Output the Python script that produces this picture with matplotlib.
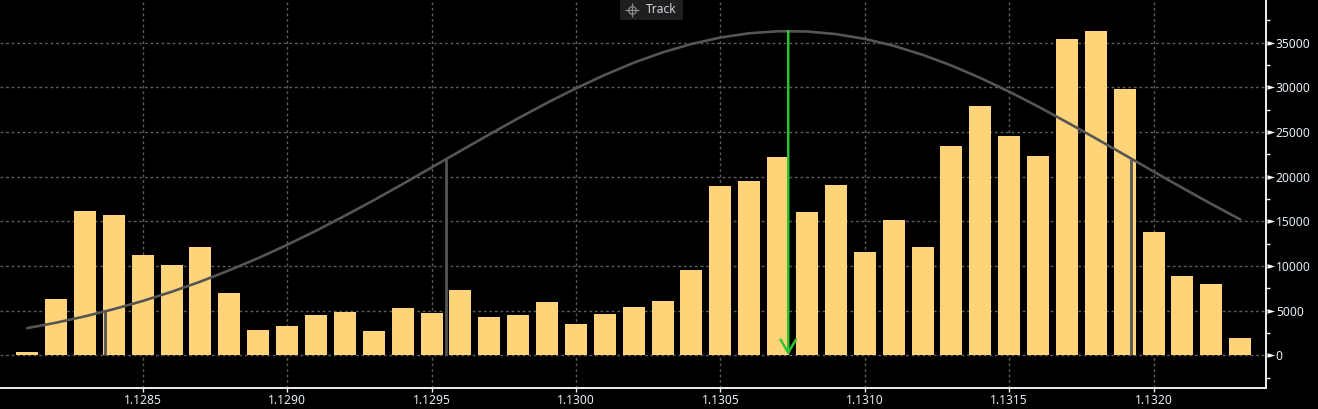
import matplotlib
matplotlib.use("Agg")
import matplotlib.pyplot as plt
import matplotlib.transforms as mtransforms
from matplotlib.patches import Rectangle
from matplotlib.lines import Line2D
import numpy as np

# ---- data ----
price_levels = [1.1281, 1.1282, 1.1283, 1.1284, 1.1285, 1.1286, 1.1287, 1.1288, 1.1289, 1.1290,
                1.1291, 1.1292, 1.1293, 1.1294, 1.1295, 1.1296, 1.1297, 1.1298, 1.1299, 1.1300,
                1.1301, 1.1302, 1.1303, 1.1304, 1.1305, 1.1306, 1.1307, 1.1308, 1.1309, 1.1310,
                1.1311, 1.1312, 1.1313, 1.1314, 1.1315, 1.1316, 1.1317, 1.1318, 1.1319, 1.1320,
                1.1321, 1.1322, 1.1323]
volumes = [360, 6260, 16100, 15660, 11190, 10070, 12080, 6940, 2830, 3280,
           4510, 4850, 2720, 5300, 4740, 7310, 4290, 4510, 5970, 3500,
           4620, 5410, 6080, 9550, 18950, 19510, 22200, 16040, 19060, 11560,
           15150, 12120, 23430, 27910, 24550, 22310, 35410, 36300, 29810, 13800,
           8850, 7960, 1940]
curve_values = [3040, 3650, 4360, 5170, 6080, 7110, 8250, 9520, 10880, 12360,
                13940, 15620, 17360, 19170, 21020, 22880, 24720, 26530, 28260, 29890,
                31390, 32750, 33910, 34850, 35570, 36050, 36280, 36250, 35960, 35420,
                34650, 33640, 32440, 31050, 29510, 27850, 26090, 24280, 22430, 20570,
                18730, 16940, 15210]
sigma_levels = [1.12837, 1.12955, 1.13192]
sigma_heights = [4910, 22020, 22020]
track_price = 1.130735
track_top = 36300
x_ticks = [1.1285, 1.1290, 1.1295, 1.1300, 1.1305, 1.1310, 1.1315, 1.1320]
x_tick_labels = ["1.1285", "1.1290", "1.1295", "1.1300", "1.1305", "1.1310", "1.1315", "1.1320"]
y_ticks = [0, 5000, 10000, 15000, 20000, 25000, 30000, 35000]
y_minor_ticks = [-2500, 2500, 7500, 12500, 17500, 22500, 27500, 32500, 37500]
legend_label = "Track"

# ---- styling ----
BG = "#000000"
BAR = "#FFD479"
GRID = "#5c5c5c"
CURVE = "#555555"
GREEN = "#2fc42f"
TXT = "#e6eef7"
FONT = "Noto Sans"

fig = plt.figure(figsize=(13.18, 4.09), dpi=100, facecolor=BG)
ax = fig.add_axes([0.0, 0.0506, 0.9603, 0.9494], facecolor=BG)

ax.bar(price_levels, volumes, width=0.0000762, color=BAR, zorder=2, linewidth=0)
ax.plot(price_levels, curve_values, color=CURVE, lw=1.9, zorder=3, solid_capstyle="round")
ax.vlines(sigma_levels, 0, sigma_heights, color=CURVE, lw=2.0, zorder=3)
ax.annotate("", xy=(track_price, 0), xytext=(track_price, track_top),
            arrowprops=dict(arrowstyle="->,head_length=0.95,head_width=0.55",
                            color=GREEN, lw=1.8, shrinkA=0, shrinkB=0),
            zorder=4)

ax.set_xlim(1.128006, 1.132388)
ax.set_ylim(-3694, 39774)

ax.set_axisbelow(True)
ax.grid(True, which="major", color=GRID, linestyle=(0, (2, 2)), linewidth=1.0)

ax.set_xticks(x_ticks)
ax.set_xticklabels(x_tick_labels)
ax.yaxis.tick_right()
ax.set_yticks(y_ticks)
ax.set_yticklabels([str(v) for v in y_ticks])
ax.set_yticks(y_minor_ticks, minor=True)

ax.tick_params(axis="x", colors=TXT, length=3, width=1, pad=1.2, labelsize=8.7, direction="out")
ax.tick_params(axis="y", which="major", colors=TXT, length=0, pad=7.3, labelsize=8.7)
ax.tick_params(axis="y", which="minor", colors=TXT, length=3, width=1, direction="out")
for lab in ax.get_xticklabels() + ax.get_yticklabels():
    lab.set_fontfamily(FONT)
    lab.set_color(TXT)

for s in ["top", "left"]:
    ax.spines[s].set_visible(False)
for s in ["bottom", "right"]:
    ax.spines[s].set_color("#ffffff")
    ax.spines[s].set_linewidth(1.3)

# right-pointing triangle tick markers
tri = [(0, -2.3), (7.7, 0), (0, 2.3)]
trans = mtransforms.offset_copy(ax.get_yaxis_transform(), fig=fig, x=1.5, y=0, units="dots")
ax.plot([1.0] * len(y_ticks), y_ticks, linestyle="none", marker=tri, markersize=11,
        color="#ffffff", markeredgewidth=0, transform=trans, clip_on=False, zorder=5)

# legend box "Track"
fig.add_artist(Rectangle((620 / 1318, 1 - 20 / 409), 63 / 1318, 20 / 409,
                         transform=fig.transFigure, facecolor="#1f1f1f", edgecolor="none"))
cx, cy = 632 / 1318, 1 - 9.5 / 409
fig.add_artist(Line2D([cx], [cy], transform=fig.transFigure, marker="o", markersize=5.5,
                      markerfacecolor="none", markeredgecolor="#8a8a8a", markeredgewidth=0.9))
fig.add_artist(Line2D([cx], [cy], transform=fig.transFigure, marker="+", markersize=10,
                      markeredgecolor="#8a8a8a", markeredgewidth=0.9))
fig.text(646 / 1318, cy, legend_label, color="#cfd6de", fontsize=8.7, family=FONT,
         ha="left", va="center")

fig.savefig("out.png", dpi=100, facecolor=BG)
